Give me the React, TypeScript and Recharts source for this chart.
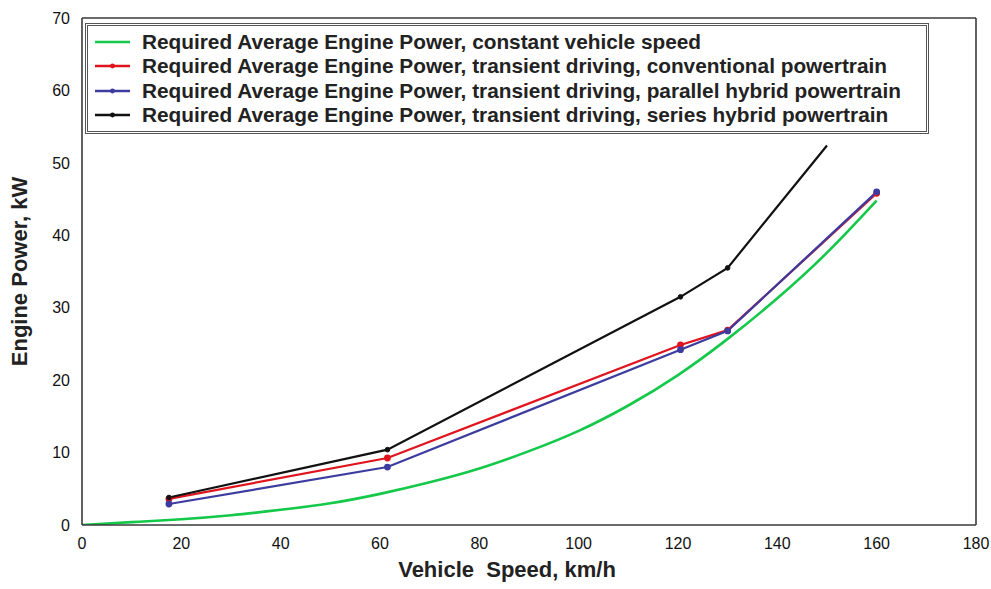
import React from 'react';
import { LineChart, Line, XAxis, YAxis, Legend } from 'recharts';

// Constant vehicle speed curve
const constSpeeds = [0, 10, 20, 30, 40, 50, 60, 70, 80, 90, 100, 110, 120, 130, 140, 150, 160];
const constPower = [0, 0.4, 0.8, 1.35, 2.1, 3.0, 4.3, 5.9, 7.8, 10.2, 13.0, 16.5, 20.7, 25.7, 31.3, 37.6, 44.8];

// Transient driving points
const transientSpeeds = [17.5, 61.5, 120.5, 130, 160];
const conventionalPower = [3.6, 9.25, 24.85, 26.9, 45.8];
const parallelPower = [2.9, 8.0, 24.2, 26.8, 46.0];
const seriesSpeeds = [17.5, 61.5, 120.5, 130, 150];
const seriesPower = [3.8, 10.4, 31.5, 35.5, 52.4];

const xTicks = [0, 20, 40, 60, 80, 100, 120, 140, 160, 180];
const yTicks = [0, 10, 20, 30, 40, 50, 60, 70];

const labels = [
  'Required Average Engine Power, constant vehicle speed',
  'Required Average Engine Power, transient driving, conventional powertrain',
  'Required Average Engine Power, transient driving, parallel hybrid powertrain',
  'Required Average Engine Power, transient driving, series hybrid powertrain',
];

const colors = ['#14c84a', '#e0141e', '#3c3ca0', '#111111'];

const toPoints = (xs: number[], ys: number[]) => xs.map((x, i) => ({ x, y: ys[i] }));

const constData = toPoints(constSpeeds, constPower);
const convData = toPoints(transientSpeeds, conventionalPower);
const parData = toPoints(transientSpeeds, parallelPower);
const serData = toPoints(seriesSpeeds, seriesPower);

const font = 'Arial, "Liberation Sans", Helvetica, sans-serif';
const axisColor = '#3a3a3a';
const tickLen = 8;

const BottomTick = (props: any) => {
  const { x, y, payload, tickMargin } = props;
  const axisY = y - tickMargin;
  return (
    <g>
      <line x1={x} y1={axisY} x2={x} y2={axisY - tickLen - 1} stroke={axisColor} strokeWidth={1.5} />
      <text x={x} y={y} dy="0.71em" textAnchor="middle" fontFamily={font} fontSize={16} fill="#111">
        {payload.value}
      </text>
    </g>
  );
};

const TopTick = (props: any) => {
  const { x, y } = props;
  return <line x1={x} y1={y} x2={x} y2={y + tickLen - 1} stroke={axisColor} strokeWidth={1.5} />;
};

const LeftTick = (props: any) => {
  const { x, y, payload, tickMargin } = props;
  const axisX = x + tickMargin;
  return (
    <g>
      <line x1={axisX} y1={y} x2={axisX + tickLen - 2} y2={y} stroke={axisColor} strokeWidth={1.5} />
      <text x={x} y={y} dy="0.355em" textAnchor="end" fontFamily={font} fontSize={16} fill="#111">
        {payload.value}
      </text>
    </g>
  );
};

const RightTick = (props: any) => {
  const { x, y } = props;
  return <line x1={x} y1={y} x2={x - tickLen + 2} y2={y} stroke={axisColor} strokeWidth={1.5} />;
};

const LegendContent = (props: any) => {
  const payload = props.payload || [];
  return (
    <div style={{ paddingTop: 4, paddingLeft: 7 }}>
      {payload.map((p: any, i: number) => (
        <div key={i} style={{ display: 'flex', alignItems: 'center', height: 24.3 }}>
          <svg width={35} height={12} style={{ marginRight: 12, flex: 'none' }}>
            <line x1={0} y1={6} x2={35} y2={6} stroke={p.color} strokeWidth={2.5} />
            {i > 0 && <circle cx={17.5} cy={6} r={2.4} fill={p.color} />}
          </svg>
          <span
            style={{
              fontFamily: font,
              fontWeight: 'bold',
              fontSize: 20.8,
              color: '#222',
              whiteSpace: 'nowrap',
              lineHeight: '24px',
            }}
          >
            {p.value}
          </span>
        </div>
      ))}
    </div>
  );
};

export default function App() {
  return (
    <div style={{ position: 'absolute', left: 0, top: 0, width: 991, height: 589, background: '#fff' }}>
      <LineChart width={991} height={589} margin={{ top: 17, right: 14, bottom: 11, left: 0 }}>
        <XAxis
          dataKey="x"
          type="number"
          domain={[0, 180]}
          ticks={xTicks}
          allowDataOverflow
          height={53}
          tickSize={0}
          tickLine={false}
          tickMargin={13}
          tick={<BottomTick />}
          stroke={axisColor}
          strokeWidth={1.6}
          label={{
            value: 'Vehicle\u00a0 Speed, km/h',
            position: 'insideBottom',
            offset: 1,
            dx: -22,
            style: { fontFamily: font, fontWeight: 'bold', fontSize: 22, fill: '#222' },
          }}
        />
        <XAxis
          xAxisId="top"
          orientation="top"
          dataKey="x"
          type="number"
          domain={[0, 180]}
          ticks={xTicks}
          height={1}
          tickSize={0}
          tickMargin={0}
          tickLine={false}
          tick={<TopTick />}
          stroke={axisColor}
          strokeWidth={1.6}
        />
        <YAxis
          type="number"
          domain={[0, 70]}
          ticks={yTicks}
          allowDataOverflow
          width={82}
          tickSize={0}
          tickLine={false}
          tickMargin={12}
          tick={<LeftTick />}
          stroke={axisColor}
          strokeWidth={1.6}
          label={{
            value: 'Engine Power, kW',
            angle: -90,
            position: 'insideLeft',
            offset: 22,
            dx: -3,
            style: { fontFamily: font, fontWeight: 'bold', fontSize: 22, fill: '#222', textAnchor: 'middle' },
          }}
        />
        <YAxis
          yAxisId="right"
          orientation="right"
          type="number"
          domain={[0, 70]}
          ticks={yTicks}
          width={1}
          tickSize={0}
          tickMargin={0}
          tickLine={false}
          tick={<RightTick />}
          stroke={axisColor}
          strokeWidth={1.6}
        />
        <Legend
          layout="vertical"
          align="center"
          verticalAlign="middle"
          content={<LegendContent />}
          wrapperStyle={{
            top: 23,
            left: 85,
            width: 844,
            height: 111,
            background: '#fff',
            border: '3px double #555',
            boxSizing: 'border-box',
          }}
        />
        <Line
          data={constData}
          dataKey="y"
          name={labels[0]}
          type="natural"
          stroke={colors[0]}
          strokeWidth={2.6}
          dot={false}
          isAnimationActive={false}
        />
        <Line
          data={convData}
          dataKey="y"
          name={labels[1]}
          type="linear"
          stroke={colors[1]}
          strokeWidth={2.2}
          dot={{ r: 2.3, fill: colors[1], stroke: colors[1] }}
          isAnimationActive={false}
        />
        <Line
          data={parData}
          dataKey="y"
          name={labels[2]}
          type="linear"
          stroke={colors[2]}
          strokeWidth={2.2}
          dot={{ r: 2.3, fill: colors[2], stroke: colors[2] }}
          isAnimationActive={false}
        />
        <Line
          data={serData}
          dataKey="y"
          name={labels[3]}
          type="linear"
          stroke={colors[3]}
          strokeWidth={2.2}
          dot={(p: any) =>
            p.index === seriesSpeeds.length - 1 ? (
              <g key={p.index} />
            ) : (
              <circle key={p.index} cx={p.cx} cy={p.cy} r={2.3} fill={colors[3]} stroke={colors[3]} />
            )
          }
          isAnimationActive={false}
        />
      </LineChart>
    </div>
  );
}
